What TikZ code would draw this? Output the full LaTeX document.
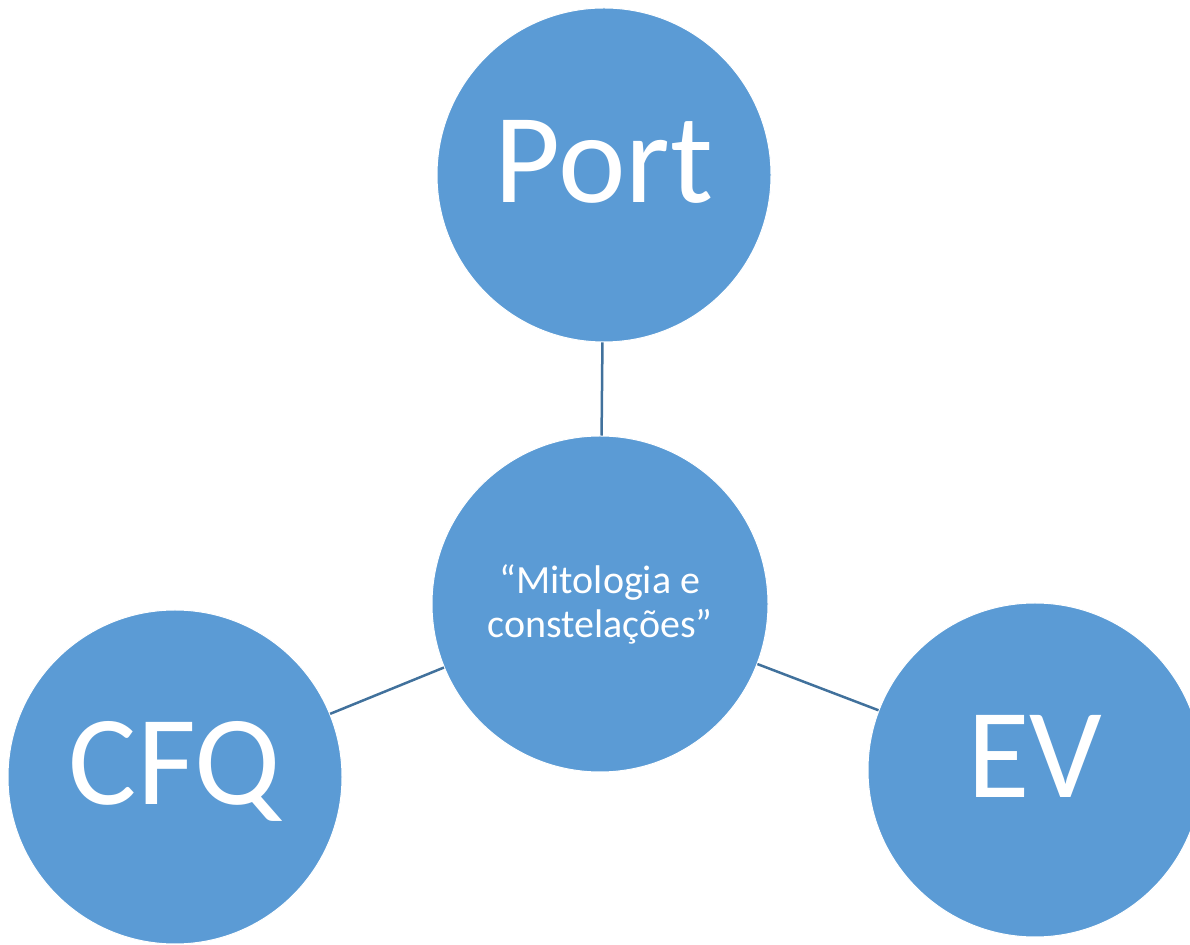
\documentclass[tikz,border=0pt]{standalone}
\usepackage{fontspec}
\setmainfont{Carlito}
\usetikzlibrary{positioning}

\definecolor{bubbleblue}{HTML}{5B9BD5}
\definecolor{linkblue}{HTML}{41719C}

\begin{document}
\begin{tikzpicture}[
  x=1pt, y=1pt,
  bubble/.style={circle, fill=bubbleblue, draw=white, line width=1pt,
    minimum size=334pt, inner sep=0pt, text=white},
  bigtext/.style={font=\fontsize{128}{128}\selectfont,
    text height=82pt, text depth=26pt},
  link/.style={draw=linkblue, line width=2.5pt}
]

% ------------------- Canvas ------------------- %
\useasboundingbox (0,0) rectangle (1190,944);

% ------------------- Circles ------------------- %
\node[bubble, minimum size=336pt, align=center,
  font=\fontsize{40}{44}\selectfont] (mito) at (600,340)
  {“Mitologia e\\constelações”};

\node[bubble, bigtext] (port) at (604,769) {Port};
\node[bubble, bigtext] (cfq) at (175,167) {CFQ};
\node[bubble, bigtext] (ev) at (1035,174) {EV};

% ------------------- Links ------------------- %
\draw[link] (mito) -- (port);
\draw[link] (mito) -- (cfq);
\draw[link] (mito) -- (ev);

\end{tikzpicture}
\end{document}
